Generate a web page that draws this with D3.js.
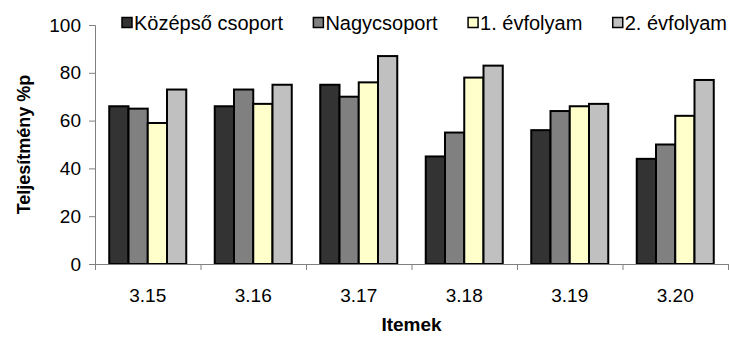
<!DOCTYPE html>
<html>
<head>
<meta charset="utf-8">
<script src="https://cdn.jsdelivr.net/npm/d3@7"></script>
<style>
  html, body { margin: 0; padding: 0; background: #fff; }
  svg { display: block; font-family: "Liberation Sans", Arial, sans-serif; }
</style>
</head>
<body>
<svg id="chart" width="729" height="339"></svg>
<script>
// Item codes on the x axis
const items = ["3.15", "3.16", "3.17", "3.18", "3.19", "3.20"];
// Group names (legend order)
const groups = ["Középső csoport", "Nagycsoport", "1. évfolyam", "2. évfolyam"];
// Performance (%p) per group, one value per item
const kozepso = [66, 66, 75, 45, 56, 44];
const nagy    = [65, 73, 70, 55, 64, 50];
const evf1    = [59, 67, 76, 78, 66, 62];
const evf2    = [73, 75, 87, 83, 67, 77];
const yTicks  = [0, 20, 40, 60, 80, 100];

const seriesValues = [kozepso, nagy, evf1, evf2];
const colors = ["#333333", "#808080", "#ffffcc", "#c0c0c0"];

const svg = d3.select("#chart");
const plotL = 95, plotR = 728, plotT = 25, plotB = 264;

const x = d3.scaleBand().domain(items).range([plotL, plotR]).paddingInner(0.27).paddingOuter(0.135);
const xb = d3.scaleBand().domain(d3.range(groups.length)).range([0, x.bandwidth()]);
const y = d3.scaleLinear().domain([0, 100]).range([plotB, plotT]);

// Bars
const rows = items.map((it, i) => ({ item: it, vals: seriesValues.map(s => s[i]) }));
svg.append("g").selectAll("g").data(rows).join("g")
  .attr("transform", d => `translate(${x(d.item)},0)`)
  .selectAll("rect").data(d => d.vals.map((v, k) => ({ v, k }))).join("rect")
  .attr("x", d => xb(d.k))
  .attr("y", d => y(d.v))
  .attr("width", xb.bandwidth())
  .attr("height", d => y(0) - y(d.v))
  .attr("fill", d => colors[d.k])
  .attr("stroke", "#000")
  .attr("stroke-width", 2);

// Y axis
const yAxis = svg.append("g").attr("transform", `translate(${plotL},0)`)
  .call(d3.axisLeft(y).tickValues(yTicks).tickSize(6).tickPadding(8));
yAxis.select(".domain").attr("stroke", "#808080").attr("d", `M-6,${plotT + 0.5}H0.5V${plotB}`);
yAxis.selectAll(".tick line").attr("stroke", "#808080");
yAxis.selectAll("text").attr("font-size", 19).attr("fill", "#000");

// X axis: ticks at band boundaries
const xAxisG = svg.append("g").attr("transform", `translate(0,${plotB})`);
xAxisG.append("line").attr("x1", plotL).attr("x2", plotR).attr("y1", 0.5).attr("y2", 0.5).attr("stroke", "#808080");
const step = (plotR - plotL) / items.length;
xAxisG.selectAll("line.t").data(d3.range(items.length + 1)).join("line")
  .attr("class", "t")
  .attr("x1", i => plotL + i * step + 0.5).attr("x2", i => plotL + i * step + 0.5)
  .attr("y1", 0).attr("y2", 6).attr("stroke", "#808080");
xAxisG.selectAll("text").data(items).join("text")
  .attr("x", d => x(d) + x.bandwidth() / 2)
  .attr("y", 38)
  .attr("text-anchor", "middle")
  .attr("font-size", 19)
  .text(d => d);

// Axis titles
svg.append("text").attr("x", (plotL + plotR) / 2).attr("y", 331)
  .attr("text-anchor", "middle").attr("font-weight", "bold").attr("font-size", 19)
  .text("Itemek");
svg.append("text").attr("transform", `translate(30,${(plotT + plotB) / 2}) rotate(-90)`)
  .attr("text-anchor", "middle").attr("font-weight", "bold").attr("font-size", 18)
  .text("Teljesítmény %p");

// Legend: laid out left to right between two x bounds with equal gaps
const legL = 122, legR = 727, sq = 10, sqGap = 2;
const lg = svg.append("g").selectAll("g").data(groups).join("g");
lg.append("rect").attr("y", 17.5).attr("width", sq).attr("height", sq)
  .attr("fill", (d, i) => colors[i]).attr("stroke", "#000").attr("stroke-width", 1.5);
const lt = lg.append("text").attr("x", sq + sqGap).attr("y", 30).attr("font-size", 20).text(d => d);
const widths = lt.nodes().map(n => n.getComputedTextLength() + sq + sqGap);
const gap = (legR - legL - d3.sum(widths)) / (groups.length - 1);
let cx = legL;
lg.attr("transform", (d, i) => { const t = `translate(${cx},0)`; cx += widths[i] + gap; return t; });
</script>
</body>
</html>
